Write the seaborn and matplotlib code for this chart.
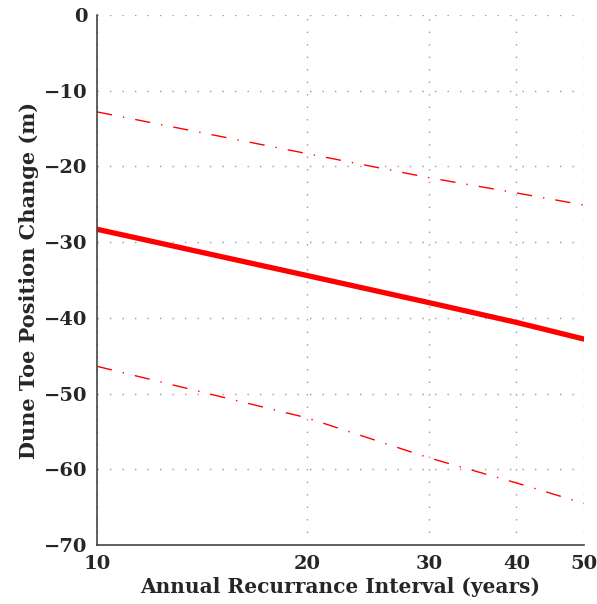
import numpy as np
import pandas as pd
import matplotlib
matplotlib.use("Agg")
import matplotlib.pyplot as plt
import seaborn as sns
from matplotlib.ticker import FixedLocator, FuncFormatter, NullLocator

# data
interval = [10, 20, 30, 40, 50]
toe_mean = [-28.3, -34.4, -38.0, -40.6, -42.8]
toe_upper = [-12.8, -18.3, -21.5, -23.5, -25.1]
toe_lower = [-46.4, -53.2, -58.5, -61.8, -64.5]

df = pd.DataFrame({"interval": interval, "mean": toe_mean,
                   "upper": toe_upper, "lower": toe_lower})

sns.set_style("white")
plt.rcParams["font.family"] = ["DejaVu Serif"]
plt.rcParams["font.weight"] = "bold"

fig = plt.figure(figsize=(5.97, 6.04), dpi=100)
ax = fig.add_axes([0.1625, 0.0977, 0.8155, 0.8775])

dashdot = (0, (11, 8, 1, 8))
sns.lineplot(data=df, x="interval", y="mean", ax=ax, color="red", lw=3.8)
sns.lineplot(data=df, x="interval", y="upper", ax=ax, color="red", lw=1,
             linestyle=dashdot)
sns.lineplot(data=df, x="interval", y="lower", ax=ax, color="red", lw=1,
             linestyle=dashdot)

ax.set_xscale("log")
ax.set_xlim(10, 50)
ax.set_ylim(-70, 0)
ax.xaxis.set_major_locator(FixedLocator(interval))
ax.xaxis.set_minor_locator(NullLocator())
ax.set_yticks(np.arange(-70, 1, 10))

def fmt(v, pos):
    return ("%d" % v).replace("-", "\u2212")

ax.xaxis.set_major_formatter(FuncFormatter(fmt))
ax.yaxis.set_major_formatter(FuncFormatter(fmt))
for lab in ax.get_xticklabels() + ax.get_yticklabels():
    lab.set_fontweight("bold")
ax.tick_params(axis="both", direction="in", length=5, width=1,
               labelsize=14, color="#333333", pad=7)

ax.grid(True, color="#999999", linestyle=(0, (1, 8)), lw=1)
for s in ["top", "right"]:
    ax.spines[s].set_visible(False)
for s in ["left", "bottom"]:
    ax.spines[s].set_color("#444444")
    ax.spines[s].set_linewidth(1.2)

ax.set_xlabel("Annual Recurrance Interval (years)", fontsize=14.5,
              fontweight="bold", labelpad=3)
ax.set_ylabel("Dune Toe Position Change (m)", fontsize=15,
              fontweight="bold", labelpad=3)

fig.savefig("out.png", dpi=100)
